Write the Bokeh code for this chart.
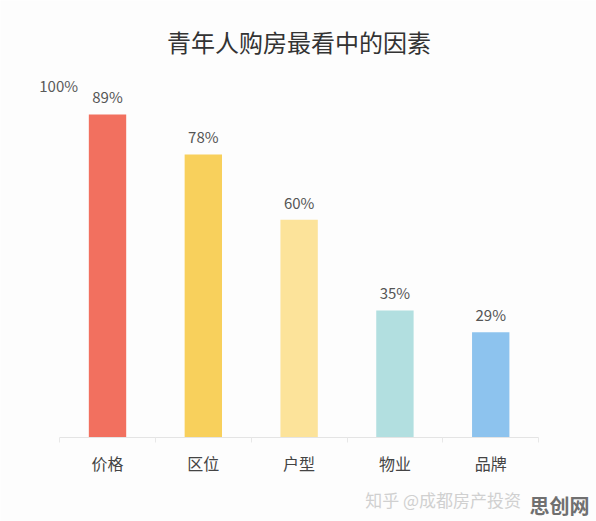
from bokeh.plotting import figure
from bokeh.models import ColumnDataSource, FixedTicker, Range1d
from bokeh.core.properties import value
from bokeh.embed import file_html
from bokeh.resources import INLINE

# ---- data ----
categories = ["价格", "区位", "户型", "物业", "品牌"]
shares = [0.89, 0.78, 0.60, 0.35, 0.29]
share_labels = ["89%", "78%", "60%", "35%", "29%"]
bar_colors = ["#F2705F", "#F8D05C", "#FCE39A", "#B2DFE0", "#8DC3EE"]
top_tick_label = "100%"
title_text = "青年人购房最看中的因素"
watermark_text = "知乎 @成都房产投资"
watermark_logo = "思创网"

FONT = "Noto Sans CJK SC"
xs = list(range(len(categories)))

src = ColumnDataSource(dict(x=xs, top=shares, lab=share_labels, color=bar_colors))

p = figure(width=596, height=521, output_backend="svg", toolbar_location=None,
           x_range=Range1d(-1.117, 5.104), y_range=Range1d(-0.2314, 1.204),
           min_border=0)
p.background_fill_color = "#fdfdfd"
p.border_fill_color = "#fdfdfd"
p.outline_line_color = None
p.grid.visible = False
p.yaxis.visible = False

# bars
p.vbar(x="x", top="top", bottom=0, width=0.39, color="color", line_color=None, source=src)

# baseline across the category bands
p.segment(x0=[-0.5], y0=[0], x1=[len(categories) - 0.5], y1=[0], line_color="#e4e4e4", line_width=1)

# value labels
p.text(x="x", y="top", text="lab", source=src, text_align="center", text_baseline="bottom",
       y_offset=-7, text_font=value(FONT), text_font_size="15px", text_color="#555555")

# top tick label
p.text(x=[-0.51], y=[1.0], text=[top_tick_label], text_align="center", text_baseline="middle",
       y_offset=11, text_font=value(FONT), text_font_size="15px", text_color="#5a5a5a")

# title
p.text(x=[(len(categories) - 1) / 2], y=[1.09], text=[title_text], text_align="center",
       text_baseline="middle", text_font=value(FONT), text_font_size="24px", text_color="#333333")

# x axis drawn at y = 0
ax = p.xaxis[0]
ax.fixed_location = 0
ax.ticker = FixedTicker(ticks=xs, minor_ticks=[i - 0.5 for i in range(len(categories) + 1)])
ax.major_label_overrides = {i: c for i, c in enumerate(categories)}
ax.axis_line_color = None
ax.major_tick_line_color = None
ax.minor_tick_line_color = "#e8e8e8"
ax.minor_tick_out = 5
ax.minor_tick_in = 0
ax.major_label_standoff = 7
ax.major_label_text_font = FONT
ax.major_label_text_font_size = "16px"
ax.major_label_text_color = "#444444"

# watermark
p.text(x=[2.69], y=[-0.17], text=[watermark_text], text_align="left", text_baseline="middle",
       text_font=value(FONT), text_font_size="17px", text_color="#d0d0d0")
p.text(x=[4.405], y=[-0.187], text=[watermark_logo], text_align="left", text_baseline="middle",
       text_font=value(FONT), text_font_size="20px", text_font_style="bold", text_color="#707070")

open("out.html", "w").write(file_html(p, INLINE))
